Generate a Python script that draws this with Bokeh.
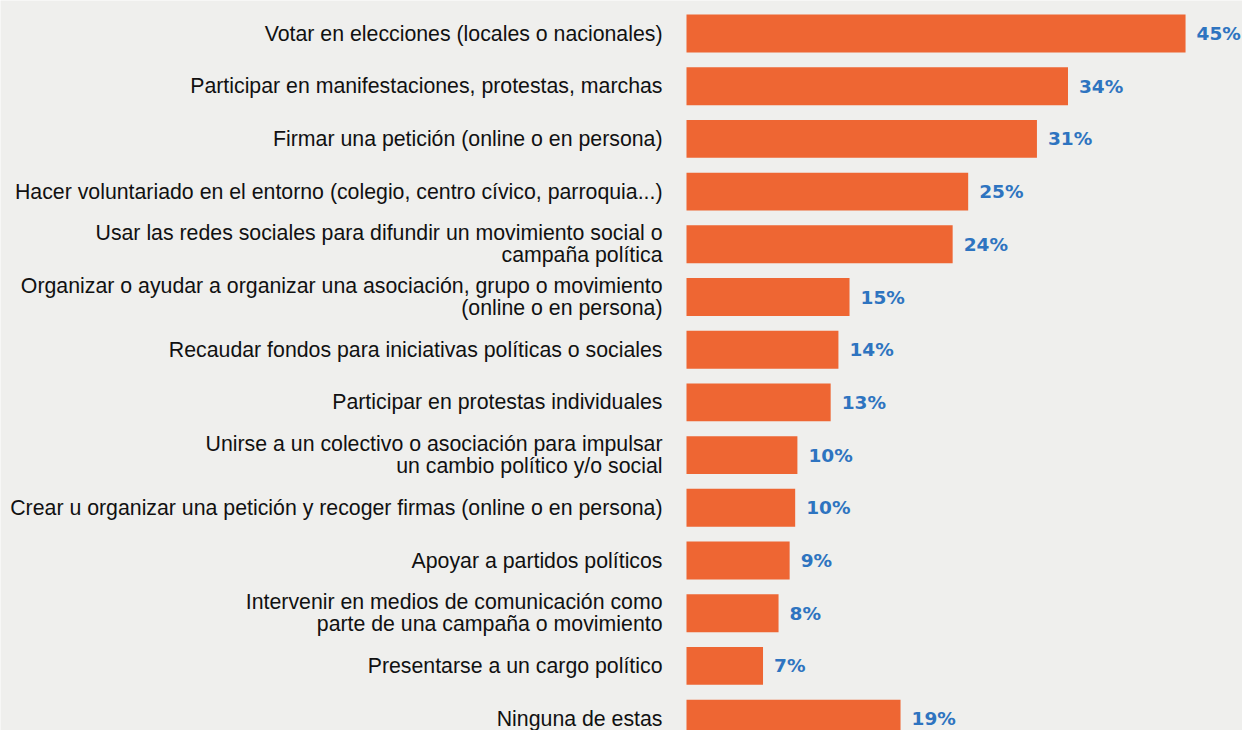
from bokeh.plotting import figure
from bokeh.models import ColumnDataSource, Range1d
from bokeh.core.properties import value
from bokeh.embed import file_html
from bokeh.resources import INLINE

categories = [
    "Votar en elecciones (locales o nacionales)",
    "Participar en manifestaciones, protestas, marchas",
    "Firmar una petición (online o en persona)",
    "Hacer voluntariado en el entorno (colegio, centro cívico, parroquia...)",
    "Usar las redes sociales para difundir un movimiento social o\ncampaña política",
    "Organizar o ayudar a organizar una asociación, grupo o movimiento\n(online o en persona)",
    "Recaudar fondos para iniciativas políticas o sociales",
    "Participar en protestas individuales",
    "Unirse a un colectivo o asociación para impulsar\nun cambio político y/o social",
    "Crear u organizar una petición y recoger firmas (online o en persona)",
    "Apoyar a partidos políticos",
    "Intervenir en medios de comunicación como\nparte de una campaña o movimiento",
    "Presentarse a un cargo político",
    "Ninguna de estas",
]
values = [45.0, 34.4, 31.6, 25.4, 24.0, 14.7, 13.7, 13.0, 10.0, 9.8, 9.3, 8.3, 6.9, 19.3]
value_labels = ["45%", "34%", "31%", "25%", "24%", "15%", "14%", "13%", "10%", "10%", "9%", "8%", "7%", "19%"]

BG = "#efefed"
ORANGE = "#ee6633"
BLUE = "#2e74c0"

W, H = 1242, 730
px_per_unit = 11.09
left_px = 686
row_px = 52.7
first_center = 33

positions = list(range(len(categories)))
src = ColumnDataSource(dict(y=positions, v=values, cat=categories, lab=value_labels))

x0 = -left_px / px_per_unit
x1 = (W - left_px) / px_per_unit
y_top = -first_center / row_px
y_bot = (H - first_center) / row_px

p = figure(width=W, height=H, output_backend="svg", toolbar_location=None,
           x_range=Range1d(x0, x1), y_range=Range1d(y_bot, y_top),
           min_border=0, background_fill_color=BG, border_fill_color=BG,
           outline_line_color=None)
p.axis.visible = False
p.grid.visible = False

p.hbar(y="y", left=0, right="v", height=0.72, source=src, fill_color=ORANGE, line_color=None)

p.text(x=0, y="y", text="cat", source=src, x_offset=-24, text_align="right",
       text_baseline="middle", text_font=value("Liberation Sans"), text_font_size="21.3px",
       text_color="#111111", text_line_height=0.93)

p.text(x="v", y="y", text="lab", source=src, x_offset=11, text_align="left",
       text_baseline="middle", text_font=value("DejaVu Sans"), text_font_style="bold",
       text_font_size="18.5px", text_color=BLUE)

html = file_html(p, INLINE)
html = html.replace("<body>", '<body style="background:%s">' % BG, 1)
open("out.html", "w").write(html)
